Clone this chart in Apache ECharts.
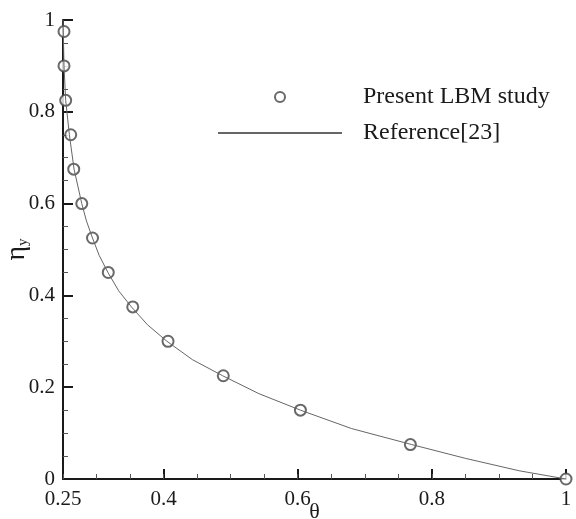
<!DOCTYPE html>
<html>
<head>
    <meta charset="utf-8">
    <title>eta_y vs theta</title>
    <script src="https://cdn.jsdelivr.net/npm/echarts@6.0.0/dist/echarts.min.js"></script>
    <style>
        html, body { margin: 0; padding: 0; background: #fff; }
        #chart1 { width: 576px; height: 519px; }
    </style>
</head>
<body>
<div id="chart1"></div>
<script>
    // LBM points (theta, eta_y)
    var lbmTheta = [0.2515, 0.2515, 0.254, 0.2615, 0.266, 0.278, 0.294, 0.3175, 0.354, 0.4066, 0.489, 0.604, 0.768, 1.0];
    var lbmEta   = [0.975, 0.9, 0.825, 0.75, 0.675, 0.6, 0.525, 0.45, 0.375, 0.3, 0.225, 0.15, 0.075, 0];

    // reference curve
    var refTheta = [0.25, 0.2508, 0.2515, 0.254, 0.2595, 0.2665, 0.278, 0.285, 0.294, 0.304, 0.317, 0.333, 0.352, 0.376, 0.405, 0.443, 0.488, 0.542, 0.604, 0.68, 0.77, 0.85, 0.93, 1.0];
    var refEta   = [1.0, 0.95, 0.9, 0.825, 0.75, 0.675, 0.6, 0.562, 0.525, 0.487, 0.45, 0.41, 0.375, 0.336, 0.3, 0.26, 0.225, 0.186, 0.15, 0.11, 0.075, 0.045, 0.018, 0];

    var xLabels = [0.25, 0.4, 0.6, 0.8, 1];
    var xMajorTicks = [0.4, 0.6, 0.8, 1];

    function pairs(xs, ys) {
        var out = [];
        for (var i = 0; i < xs.length; i++) out.push([xs[i], ys[i]]);
        return out;
    }

    var font = 'Liberation Serif';
    var ink = '#1a1a1a';

    var myChart1 = echarts.init(document.getElementById('chart1'));
    myChart1.setOption({
        animation: false,
        backgroundColor: '#fff',
        grid: { left: 63, right: 10, top: 20, bottom: 40, outerBoundsMode: 'none', containLabel: false },
        legend: {
            orient: 'vertical',
            left: 212,
            top: 80,
            itemWidth: 124,
            itemHeight: 10,
            itemGap: 12,
            selectedMode: false,
            textStyle: { fontFamily: font, fontSize: 24, color: ink, padding: [0, 0, 0, 16] },
            data: [
                { name: 'Present LBM study', icon: 'emptyCircle' },
                { name: 'Reference[23]', itemStyle: { opacity: 0 } }
            ]
        },
        xAxis: [
            {
                type: 'value',
                min: 0.25,
                max: 1,
                name: 'θ',
                nameLocation: 'middle',
                nameGap: 22,
                nameMoveOverlap: false,
                nameTextStyle: { fontFamily: font, fontSize: 22, color: ink },
                axisLine: { show: true, onZero: false, lineStyle: { color: ink, width: 2 } },
                axisTick: { inside: true, length: 10, customValues: xMajorTicks, lineStyle: { color: ink, width: 2 } },
                axisLabel: { customValues: xLabels, fontFamily: font, fontSize: 21, color: ink, margin: 10 },
                splitLine: { show: false }
            },
            {
                // minor ticks every 0.05
                type: 'value',
                position: 'bottom',
                min: 0.25,
                max: 1,
                interval: 0.05,
                axisLine: { show: false, onZero: false },
                axisTick: { inside: true, length: 5, lineStyle: { color: '#555', width: 1 } },
                axisLabel: { show: false },
                splitLine: { show: false }
            }
        ],
        yAxis: {
            type: 'value',
            min: 0,
            max: 1,
            interval: 0.2,
            name: '{a|η}{b|y}',
            nameLocation: 'middle',
            nameGap: 32,
            nameMoveOverlap: false,
            nameRotate: 90,
            nameTextStyle: {
                rich: {
                    a: { fontFamily: font, fontSize: 28, color: ink },
                    b: { fontFamily: font, fontSize: 15, color: ink, verticalAlign: 'bottom', padding: [12, 0, 0, 0] }
                }
            },
            axisLine: { show: true, onZero: false, lineStyle: { color: ink, width: 2 } },
            axisTick: { inside: true, length: 10, lineStyle: { color: ink, width: 2 } },
            minorTick: { show: true, splitNumber: 4, length: 5, lineStyle: { color: '#555', width: 1 } },
            axisLabel: { fontFamily: font, fontSize: 21, color: ink, margin: 8 },
            splitLine: { show: false }
        },
        series: [
            {
                name: 'Present LBM study',
                type: 'scatter',
                symbol: 'emptyCircle',
                symbolSize: 11,
                clip: false,
                itemStyle: { color: '#444', borderWidth: 1.5 },
                data: pairs(lbmTheta, lbmEta),
                z: 2
            },
            {
                name: 'Reference[23]',
                type: 'line',
                symbol: 'none',
                smooth: false,
                lineStyle: { color: '#666', width: 1 },
                itemStyle: { color: '#666' },
                data: pairs(refTheta, refEta),
                z: 3
            }
        ]
    });
</script>
</body>
</html>
